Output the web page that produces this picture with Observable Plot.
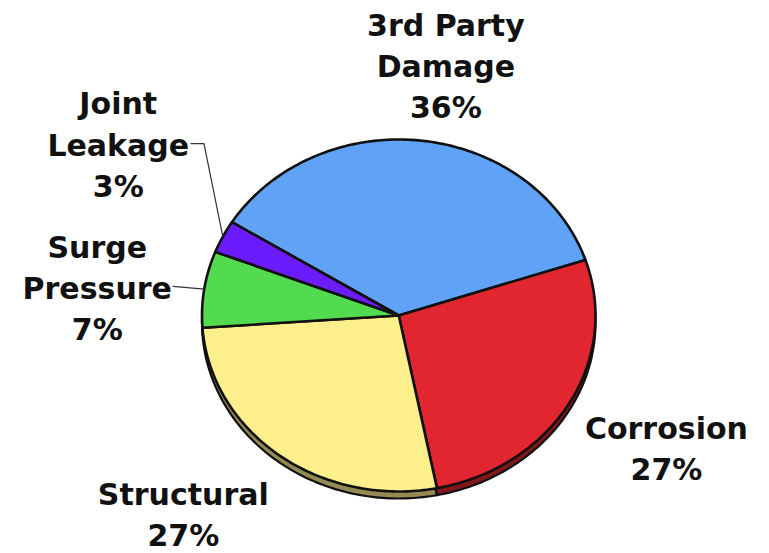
<!DOCTYPE html>
<html><head><meta charset="utf-8">
<script src="https://cdn.jsdelivr.net/npm/d3@7"></script>
<script src="https://cdn.jsdelivr.net/npm/@observablehq/plot@0.6"></script>
<style>body{margin:0;background:#fff}</style>
</head><body><div id="chart"></div>
<script>
// ---- data ----
const categories = ["3rd Party\nDamage", "Corrosion", "Structural", "Surge\nPressure", "Joint\nLeakage"];
const shares = [36, 27, 27, 7, 3];
const colors = ["#5fa2f6", "#e2262f", "#fdf08c", "#52db4f", "#6a1cfc"];

// ---- layout (not data) ----
const startCompass = 302; // degrees clockwise from 12 o'clock where first slice starts
const labelPlace = { // radius factor and angle tweak (deg) relative to slice mid-angle
  "3rd Party\nDamage": {r: 1.452, da: -2.7},
  "Corrosion": {r: 1.551, da: 1.5},
  "Structural": {r: 1.565, da: -7.0},
  "Surge\nPressure": {r: 1.542, da: 2.25},
  "Joint\nLeakage": {r: 1.732, da: -8.0}
};
const leaderFrom = { // leader-line start points (unit coords) ending at the slice rim
  "Surge\nPressure": [[-1.147, 0.165]],
  "Joint\nLeakage": [[-1.056, 0.977], [-0.99, 0.977]]
};

const total = d3.sum(shares);
const rad = d => (90 - d) * Math.PI / 180;
const slicePts = [];
const labels = [];
const leaders = [];
let acc = startCompass;
categories.forEach((cat, i) => {
  const a0 = acc, a1 = acc + shares[i] / total * 360;
  acc = a1;
  slicePts.push({cat, x: 0, y: 0});
  const n = Math.max(2, Math.ceil(a1 - a0));
  for (let k = 0; k <= n; k++) {
    const a = a0 + (a1 - a0) * k / n;
    slicePts.push({cat, x: Math.cos(rad(a)), y: Math.sin(rad(a))});
  }
  slicePts.push({cat, x: 0, y: 0});
  const mid = (a0 + a1) / 2;
  const p = labelPlace[cat];
  const t = rad(mid) + p.da * Math.PI / 180;
  labels.push({text: cat + "\n" + shares[i] + "%", x: p.r * Math.cos(t), y: p.r * Math.sin(t)});
  if (leaderFrom[cat]) {
    leaderFrom[cat].forEach(([x, y]) => leaders.push({cat, x, y}));
    leaders.push({cat, x: Math.cos(rad(mid)), y: Math.sin(rad(mid))});
  }
});

const chart = Plot.plot({
  width: 769,
  height: 553,
  margin: 0,
  style: {background: "#fff"},
  x: {domain: [-1, 1], range: [201.5, 595], axis: null},
  y: {domain: [-1, 1], range: [491, 139], axis: null},
  color: {domain: categories, range: colors},
  marks: [
    // depth (3-D side)
    Plot.line(slicePts, {x: "x", y: "y", z: "cat", fill: "cat", stroke: "none", dy: 7}),
    Plot.line(slicePts, {x: "x", y: "y", z: "cat", fill: "#000", fillOpacity: 0.42, stroke: "#111", strokeWidth: 2.2, dy: 7}),
    // top face
    Plot.line(slicePts, {x: "x", y: "y", z: "cat", fill: "cat", stroke: "#111", strokeWidth: 2.6, strokeLinejoin: "round"}),
    // leader lines
    Plot.line(leaders, {x: "x", y: "y", z: "cat", stroke: "#333", strokeWidth: 1.2}),
    // labels
    Plot.text(labels, {x: "x", y: "y", text: "text", fontSize: 30, fontWeight: "bold",
      fontFamily: "DejaVu Sans", lineHeight: 1.37, fill: "#111", textAnchor: "middle"})
  ]
});
document.getElementById("chart").append(chart);
</script>
</body></html>
